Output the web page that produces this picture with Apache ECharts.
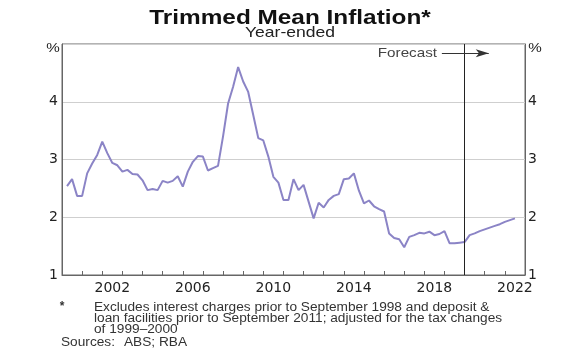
<!DOCTYPE html>
<html>
<head>
<meta charset="utf-8">
<script src="https://cdn.jsdelivr.net/npm/echarts@6/dist/echarts.min.js"></script>
<style>
html,body{margin:0;padding:0;background:#fff;}
#c{width:580px;height:352px;}
</style>
</head>
<body>
<div id="c"></div>
<script>
// ---- data ----
const yearCategories = ['2000','2001','2002','2003','2004','2005','2006','2007','2008','2009','2010','2011',
  '2012','2013','2014','2015','2016','2017','2018','2019','2020','2021','2022'];
const xTickLabels = ['2002','2006','2010','2014','2018','2022'];
const yTicks = [1, 2, 3, 4, 5];
const firstQuarter = 2000.25;   // position of first quarterly observation (years)
const quarterStep = 0.25;
// year-ended trimmed mean inflation, quarterly, actual
const actual = [
  2.54, 2.66, 2.37, 2.37,
  2.76, 2.93, 3.08, 3.31,
  3.11, 2.94, 2.90, 2.79,
  2.82, 2.75, 2.74, 2.64,
  2.47, 2.49, 2.47, 2.63,
  2.60, 2.63, 2.71, 2.53,
  2.79, 2.96, 3.06, 3.05,
  2.81, 2.85, 2.89, 3.40,
  3.97, 4.26, 4.60, 4.35,
  4.17, 3.77, 3.37, 3.33,
  3.05, 2.70, 2.60, 2.30,
  2.30, 2.66, 2.47, 2.56,
  2.27, 1.98, 2.25, 2.17,
  2.30, 2.37, 2.40, 2.66,
  2.67, 2.76, 2.46, 2.24,
  2.29, 2.19, 2.14, 2.10,
  1.72, 1.64, 1.62, 1.48,
  1.66, 1.69, 1.73, 1.72,
  1.75, 1.69, 1.71, 1.76,
  1.55, 1.55, 1.56, 1.57
];
// forecast continues after the last actual observation
const forecast = [1.69, 1.72, 1.76, 1.79, 1.82, 1.85, 1.88, 1.92, 1.95, 1.98];
const forecastStart = 2020;
const footnoteLines = [
  'Excludes interest charges prior to September 1998 and deposit &',
  'loan facilities prior to September 2011; adjusted for the tax changes',
  'of 1999\u20132000'
];

// ---- build ----
const actualData = actual.map((v, i) => [firstQuarter + i * quarterStep, v]);
const lastActual = actualData[actualData.length - 1];
const forecastData = [lastActual].concat(
  forecast.map((v, i) => [lastActual[0] + (i + 1) * quarterStep, v]));

const FONT = "'Liberation Sans', Arial, Helvetica, sans-serif";
const AXFONT = "'DejaVu Sans', 'Liberation Sans', Arial, sans-serif";
const SX = 1.17; // horizontal stretch seen in the reference text
const lineColor = '#8b84c6';
const chart = echarts.init(document.getElementById('c'), null, {renderer: 'canvas'});

function txt(x, y, text, font, fill, align, sx) {
  return {type: 'text', x: x, y: y, scaleX: sx || SX, silent: true,
    style: {text: text, font: font, fill: fill, textAlign: align || 'left', textVerticalAlign: 'middle'}};
}

const option = {
  animation: false,
  backgroundColor: '#fff',
  textStyle: {fontFamily: FONT},
  grid: {left: 62, right: 55, top: 44, bottom: 77, show: true,
         borderColor: '#666', borderWidth: 1, containLabel: false},
  xAxis: [
    {type: 'value', min: 2000, max: 2023, interval: 1, position: 'bottom', offset: 0,
     axisLine: {show: true, lineStyle: {color: '#666', width: 1}},
     axisTick: {show: true, inside: true, length: 4, lineStyle: {color: '#666'}},
     axisLabel: {show: false}, splitLine: {show: false}},
    {type: 'category', data: yearCategories, boundaryGap: true, position: 'bottom', offset: 0,
     axisLine: {show: false}, axisTick: {show: false}, splitLine: {show: false},
     axisLabel: {show: true, interval: 0, margin: 6, fontSize: 14, color: '#222', fontFamily: AXFONT,
       formatter: v => xTickLabels.indexOf(v) >= 0 ? v : ''}}
  ],
  yAxis: [
    {type: 'value', min: 1, max: 5, interval: 1, position: 'left',
     axisLine: {show: true, lineStyle: {color: '#666'}}, axisTick: {show: false},
     axisLabel: {fontSize: 14, color: '#222', margin: 4, fontFamily: AXFONT,
       formatter: v => (yTicks.indexOf(v) >= 0 && v < 5) ? String(v) : ''},
     splitLine: {show: true, lineStyle: {color: '#cfcfcf', width: 1}}},
    {type: 'value', min: 1, max: 5, interval: 1, position: 'right',
     axisLine: {show: true, lineStyle: {color: '#666'}}, axisTick: {show: false},
     axisLabel: {fontSize: 14, color: '#222', margin: 3, fontFamily: AXFONT,
       formatter: v => (yTicks.indexOf(v) >= 0 && v < 5) ? String(v) : ''},
     splitLine: {show: false}}
  ],
  series: [
    {type: 'line', xAxisIndex: 0, yAxisIndex: 0, data: actualData, showSymbol: false,
     lineStyle: {color: lineColor, width: 2}, z: 3,
     markLine: {silent: true, symbol: 'none', animation: false,
       label: {show: false},
       lineStyle: {color: '#222', width: 1, type: 'solid'},
       data: [{xAxis: forecastStart}]}},
    {type: 'line', xAxisIndex: 0, yAxisIndex: 0, data: forecastData, showSymbol: false,
     lineStyle: {color: lineColor, width: 2}, z: 3,
     markLine: {silent: true, symbol: ['none', 'arrow'], symbolSize: [6, 13], animation: false,
       label: {show: false},
       lineStyle: {color: '#333', width: 1, type: 'solid'},
       data: [[{coord: [2018.87, 4.84]}, {coord: [2021.2, 4.84]}]]}}
  ],
  graphic: [
    txt(290, 18, 'Trimmed Mean Inflation*', "bold 21px " + FONT, '#111', 'center', 1.16),
    txt(290, 33, 'Year-ended', "15px " + FONT, '#222', 'center', 1.17),
    txt(53, 48, '%', "13px " + FONT, '#222', 'center'),
    txt(535, 48, '%', "13px " + FONT, '#222', 'center'),
    txt(437, 53, 'Forecast', "13px " + FONT, '#444', 'right'),
    txt(62, 307, '*', "bold 12px " + FONT, '#333', 'center', 1),
    txt(94, 308, footnoteLines[0], "12px " + FONT, '#333', 'left', 1.14),
    txt(94, 319, footnoteLines[1], "12px " + FONT, '#333', 'left', 1.14),
    txt(94, 330, footnoteLines[2], "12px " + FONT, '#333', 'left', 1.14),
    txt(61, 343, 'Sources:', "12px " + FONT, '#333', 'left', 1.14),
    txt(124, 343, 'ABS; RBA', "12px " + FONT, '#333', 'left', 1.14)
  ]
};
chart.setOption(option);
</script>
</body>
</html>
